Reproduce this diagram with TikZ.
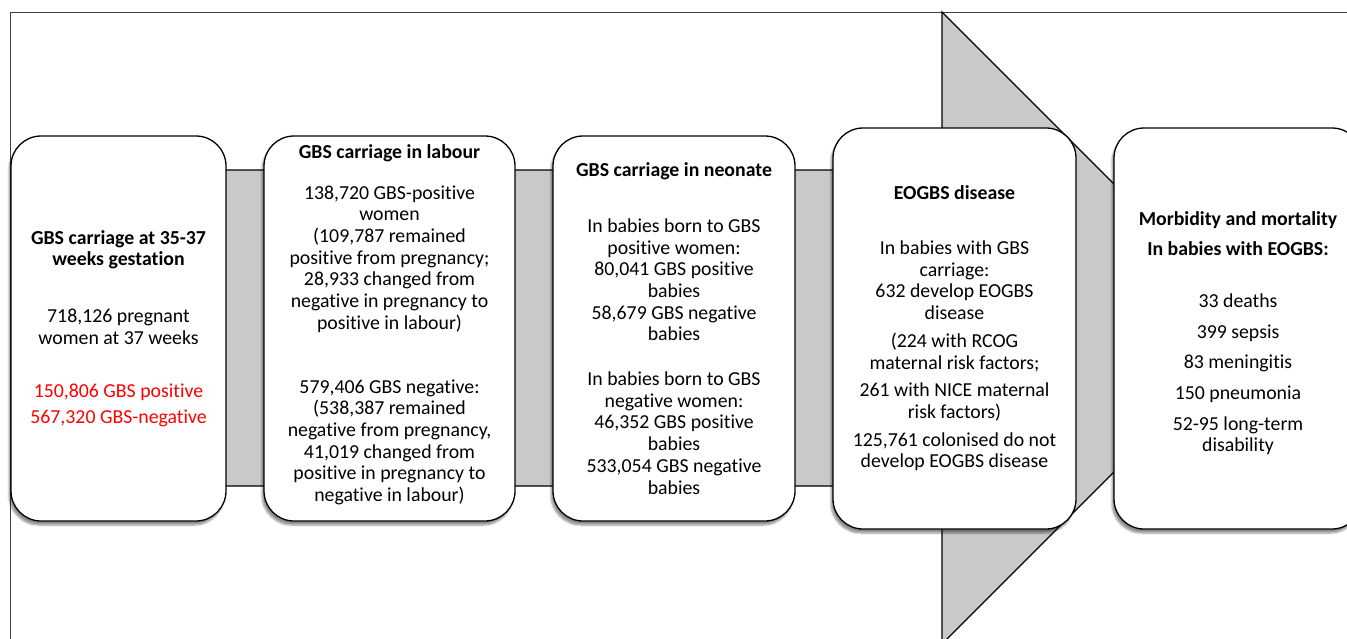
\documentclass[tikz,border=0pt]{standalone}
\usepackage{fontspec}
\setmainfont{Carlito}[Ligatures=NoCommon]
\usetikzlibrary{positioning,shadows.blur}

\begin{document}
\begin{tikzpicture}[
   x=1pt,y=-1pt,
   node distance=36.7pt,
   box/.style={draw,line width=1.3pt,rounded corners=30pt,fill=white,
               align=center,minimum width=#1,minimum height=385pt,inner sep=2pt,
               font=\fontsize{19.8}{21.7}\selectfont,
               blur shadow={shadow xshift=-2pt,shadow yshift=-4pt,
                            shadow blur steps=6,shadow opacity=45}},
   tall/.style={minimum height=401pt},
   band/.style={draw,line width=1.1pt,fill=black!21,line join=miter}
 ]
  \useasboundingbox (0,0) rectangle (1347,638);
  % outer frame, cut by the page edge
  \draw[line width=0.8pt,black!75] (10,650) -- (10,12) -- (1360,12);
  % big grey arrow behind the boxes
  \draw[band] (100,170) -- (942,170) -- (942,12) -- (1258,328)
              -- (942,644) -- (942,486) -- (100,486) -- cycle;

  \node[box=215pt] (gestation) at (118.5,328.5) {%
    \textbf{GBS carriage at 35-37}\\ \textbf{weeks gestation}\\[35pt]
    718,126 pregnant\\ women at 37 weeks\\[32pt]
    \textcolor{red}{150,806 GBS positive}\\[4pt]
    \textcolor{red}{567,320 GBS-negative}};
  \node[box=251pt,right=of gestation] (labour) {%
    \textbf{GBS carriage in labour}\\[19pt]
    138,720 GBS-positive\\ women\\ (109,787 remained\\
    positive from pregnancy;\\ 28,933 changed from\\
    negative in pregnancy to\\ positive in labour)\\[42pt]
    579,406 GBS negative:\\ (538,387 remained\\
    negative from pregnancy,\\ 41,019 changed from\\
    positive in pregnancy to\\ negative in labour)\rule[-11pt]{0pt}{11pt}};
  \node[box=242pt,right=of labour] (neonate) {%
    \textbf{GBS carriage in neonate}\\[34pt]
    In babies born to GBS\\ positive women:\\ 80,041 GBS positive\\
    babies\\ 58,679 GBS negative\\ babies\\[23pt]
    In babies born to GBS\\ negative women:\\ 46,352 GBS positive\\
    babies\\ 533,054 GBS negative\\ babies};
  \node[box=243pt,tall,right=of neonate] (disease) {%
    \textbf{EOGBS disease}\\[33pt]
    In babies with GBS\\ carriage:\\ 632 develop EOGBS\\ disease\\[6pt]
    (224 with RCOG\\ maternal risk factors;\\[6pt]
    261 with NICE maternal\\ risk factors)\\[6pt]
    125,761 colonised do not\\ develop EOGBS disease};
  \node[box=248pt,tall,right=of disease] (outcome) {%
    \rule{0pt}{24pt}\textbf{Morbidity and mortality}\\[8pt]
    \textbf{In babies with EOGBS:}\\[30pt]
    33 deaths\\[9pt] 399 sepsis\\[9pt] 83 meningitis\\[9pt]
    150 pneumonia\\[9pt] 52-95 long-term\\ disability};
 \end{tikzpicture}
\end{document}
